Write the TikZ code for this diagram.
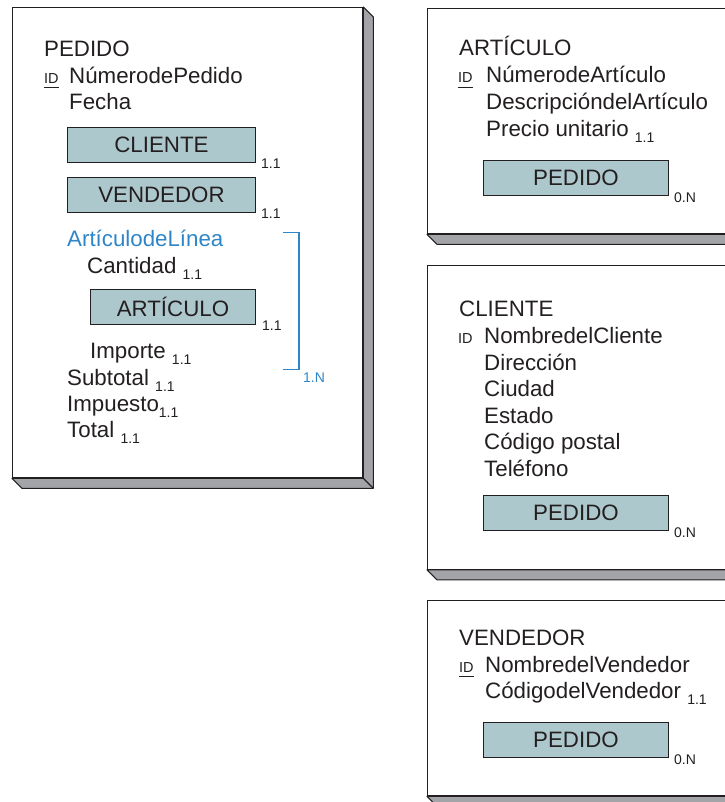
\documentclass[tikz,border=0pt]{standalone}
\usepackage{fontspec}
\setmainfont{Liberation Sans}
\usetikzlibrary{calc,backgrounds}
\definecolor{refteal}{RGB}{173,200,205}
\definecolor{shadowgray}{RGB}{163,164,168}
\definecolor{linkblue}{RGB}{46,134,200}
\definecolor{inkD}{RGB}{35,31,32}
\newcommand{\attrfont}{\fontsize{22.3}{26}\selectfont}
\newcommand{\idfont}{\fontsize{14.5}{16}\selectfont}
\newcommand{\multfont}{\fontsize{14}{15}\selectfont}
\newcommand{\card}[1]{\raisebox{-6pt}{\multfont #1}}
\newcommand{\pk}{\makebox[0pt][l]{\rule[-5pt]{15pt}{1.1pt}}ID}
\tikzset{
  sheet/.style={draw=inkD,fill=white,line width=1.3pt,anchor=north west,inner sep=0pt},
  sheetshade/.style={draw=inkD,fill=shadowgray,line width=1.1pt,line join=round},
  attr/.style={anchor=base west,inner sep=0pt,font=\attrfont,text=inkD},
  idtag/.style={anchor=base west,inner sep=0pt,font=\idfont,text=inkD},
  mult/.style={anchor=base west,inner sep=0pt,font=\multfont,text=inkD},
  refbox/.style={draw=inkD,fill=refteal,line width=0.9pt,anchor=north west,inner sep=0pt,
                 font=\attrfont,text=inkD,minimum height=35pt},
  grp/.style={draw=linkblue,line width=1.1pt},
}
\newcommand{\castshadow}[1]{%
  \draw[sheetshade] (#1.north east) -- ++(10,10) |- ($(#1.south west)+(10,10)$)
    -- (#1.south west) -- (#1.south east) -- cycle;
  \draw[sheetshade] (#1.south east) -- ++(10,10);}

\begin{document}
\begin{tikzpicture}[x=1pt,y=-1pt]
\useasboundingbox (0,0) rectangle (724,802);
\node[sheet,minimum width=350pt,minimum height=470pt] (pedido) at (12,7) {};
\node[sheet,minimum width=308pt,minimum height=225pt] (articulo) at (427,8) {};
\node[sheet,minimum width=308pt,minimum height=303.5pt] (cliente) at (427,265) {};
\node[sheet,minimum width=308pt,minimum height=195pt] (vendedor) at (427,600) {};
\begin{scope}[on background layer]
\castshadow{pedido}
\castshadow{articulo}
\castshadow{cliente}
\castshadow{vendedor}
\end{scope}

\node[attr] (pTitle) at (44,57) {PEDIDO};
\node[idtag] (pId) at (44,83.5) {\pk};
\node[attr] (pNum) at (69,83.5) {NúmerodePedido};
\node[attr] (pFecha) at (69,110) {Fecha};
\node[refbox,minimum width=188pt] (pCli) at (67,126.7) {CLIENTE};
\node[mult] at ($(pCli.south east)+(5,5.5)$) {1.1};
\node[refbox,minimum width=188pt] (pVen) at (67,177.3) {VENDEDOR};
\node[mult] at ($(pVen.south east)+(5,5.5)$) {1.1};
\node[attr,text=linkblue] (pLinea) at (67,246.7) {ArtículodeLínea};
\node[attr] (pCant) at (87,273) {Cantidad \card{1.1}};
\node[refbox,minimum width=165pt] (pArt) at (90,289.3) {ARTÍCULO};
\node[mult] at ($(pArt.south east)+(6,5.5)$) {1.1};
\node[attr] (pImp) at (90,358) {Importe \card{1.1}};
\node[attr] (pSub) at (67,385.7) {Subtotal \card{1.1}};
\node[attr] (pImpu) at (67,411.7) {Impuesto\card{1.1}};
\node[attr] (pTot) at (67,437) {Total \card{1.1}};
\coordinate (gTop) at (283,232.7);
\coordinate (gBot) at (283,369.3);
\draw[grp] (gTop) -- ++(16,0) |- (gBot);
\node[mult,text=linkblue] (gMult) at ($(gBot)+(20,13.4)$) {1.N};

\node[attr] (aTitle) at (459,56) {ARTÍCULO};
\node[idtag] (aId) at (458,83) {\pk};
\node[attr] (aNum) at (486,83) {NúmerodeArtículo};
\node[attr] (aDesc) at (486,109.7) {DescripcióndelArtículo};
\node[attr] (aPrec) at (486,136.4) {Precio unitario \card{1.1}};
\node[refbox,minimum width=185pt] (aPed) at (483,160) {PEDIDO};
\node[mult] at ($(aPed.south east)+(5,6.5)$) {0.N};

\node[attr] (cTitle) at (459,316.7) {CLIENTE};
\node[idtag] (cId) at (458,343.3) {ID};
\node[attr] (cNom) at (484,343.3) {NombredelCliente};
\node[attr] (cDir) at (484,370) {Dirección};
\node[attr] (cCiu) at (484,396.7) {Ciudad};
\node[attr] (cEst) at (484,423.3) {Estado};
\node[attr] (cCod) at (484,449.9) {Código postal};
\node[attr] (cTel) at (484,476.5) {Teléfono};
\node[refbox,minimum width=185pt] (cPed) at (483,495) {PEDIDO};
\node[mult] at ($(cPed.south east)+(5,6.5)$) {0.N};

\node[attr] (vTitle) at (459,645) {VENDEDOR};
\node[idtag] (vId) at (459,672) {\pk};
\node[attr] (vNom) at (485,672) {NombredelVendedor};
\node[attr] (vCod) at (485,698.7) {CódigodelVendedor \card{1.1}};
\node[refbox,minimum width=185pt] (vPed) at (483,721.7) {PEDIDO};
\node[mult] at ($(vPed.south east)+(5,6.5)$) {0.N};
\end{tikzpicture}
\end{document}
